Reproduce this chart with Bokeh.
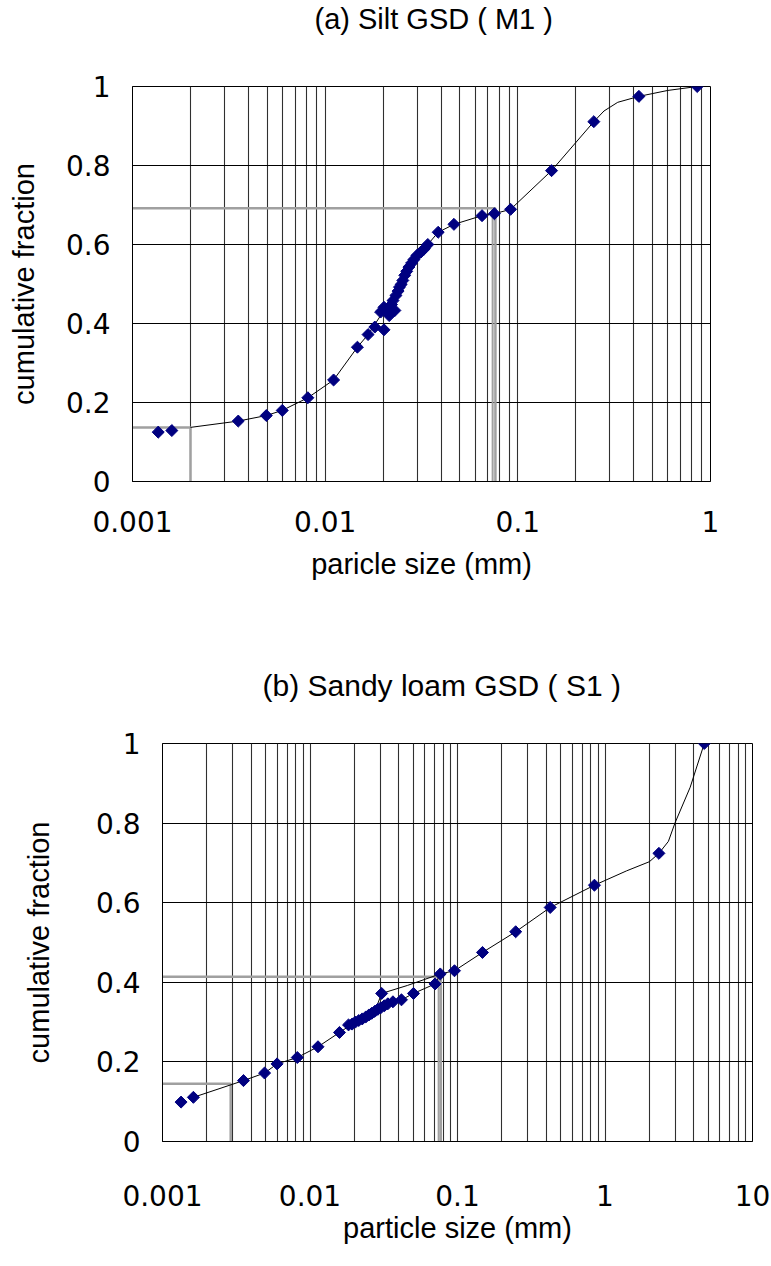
import math
from bokeh.plotting import figure
from bokeh.models import FixedTicker, CustomJSTickFormatter, Title
from bokeh.embed import file_html
from bokeh.resources import INLINE

# ---------------- (a) Silt GSD (M1) ----------------
silt_size = [0.00136, 0.00160, 0.00354, 0.00495, 0.00599, 0.00813, 0.01106, 0.0147, 0.0167,
             0.0181, 0.0202, 0.0194, 0.0202, 0.0211, 0.0215, 0.0221, 0.0225, 0.0230, 0.0233,
             0.0239, 0.0243, 0.0248, 0.0253, 0.0259, 0.0265, 0.0272, 0.0281, 0.0289, 0.0299,
             0.0314, 0.0327, 0.0341, 0.0386, 0.0466, 0.0652, 0.0756, 0.0917, 0.1496, 0.248,
             0.425, 0.853]
silt_frac = [0.125, 0.129, 0.153, 0.167, 0.180, 0.212, 0.257, 0.340, 0.372,
             0.391, 0.384, 0.429, 0.441, 0.433, 0.420, 0.448, 0.458, 0.433, 0.471,
             0.482, 0.492, 0.499, 0.509, 0.522, 0.532, 0.543, 0.553, 0.562, 0.572,
             0.581, 0.589, 0.600, 0.631, 0.651, 0.673, 0.678, 0.689, 0.787, 0.911,
             0.975, 1.0]
silt_curve_size = [0.002, 0.00354, 0.00495, 0.00599, 0.00813, 0.01106, 0.0147, 0.0167, 0.0194,
                   0.0221, 0.0253, 0.0289, 0.0341, 0.0386, 0.0466, 0.0652, 0.0756, 0.0917,
                   0.1496, 0.248, 0.28, 0.33, 0.425, 0.60, 0.853]
silt_curve_frac = [0.137, 0.153, 0.167, 0.180, 0.212, 0.257, 0.340, 0.372, 0.420,
                   0.455, 0.509, 0.560, 0.600, 0.631, 0.651, 0.673, 0.678, 0.689,
                   0.787, 0.911, 0.938, 0.960, 0.975, 0.990, 1.0]
silt_clay_x = [0.001, 0.002, 0.002]
silt_clay_y = [0.137, 0.137, 0.0]
silt_fine_x = [0.001, 0.0765, 0.0765]
silt_fine_y = [0.692, 0.692, 0.0]
silt_fine2_x = [0.074, 0.074]
silt_fine2_y = [0.692, 0.0]

# ---------------- (b) Sandy loam GSD (S1) ----------------
loam_size = [0.001336, 0.00162, 0.00354, 0.00492, 0.00598, 0.0082, 0.01133, 0.01585, 0.01825,
             0.0193, 0.0203, 0.0214, 0.0226, 0.0239, 0.0251, 0.0262, 0.0275, 0.0288, 0.0302,
             0.0319, 0.0337, 0.0306, 0.0365, 0.0417, 0.0503, 0.0705, 0.0764, 0.0954, 0.1477,
             0.248, 0.425, 0.848, 2.32, 4.71]
loam_frac = [0.099, 0.111, 0.153, 0.172, 0.195, 0.211, 0.238, 0.274, 0.293,
             0.295, 0.300, 0.304, 0.308, 0.313, 0.318, 0.322, 0.327, 0.332, 0.336,
             0.341, 0.346, 0.372, 0.351, 0.356, 0.372, 0.396, 0.421, 0.429, 0.475,
             0.527, 0.588, 0.644, 0.724, 1.0]
loam_curve_size = [0.00162, 0.00354, 0.00492, 0.00598, 0.0082, 0.01133, 0.01585, 0.0193, 0.0251,
                   0.0302, 0.0337, 0.0365, 0.0417, 0.0503, 0.0705, 0.0764, 0.0954, 0.1477,
                   0.248, 0.425, 0.848, 1.4, 2.0, 2.32, 2.69, 2.98, 3.78, 4.71]
loam_curve_frac = [0.111, 0.153, 0.172, 0.195, 0.211, 0.238, 0.274, 0.295, 0.318,
                   0.336, 0.346, 0.351, 0.356, 0.372, 0.396, 0.421, 0.429, 0.475,
                   0.527, 0.588, 0.644, 0.680, 0.703, 0.724, 0.754, 0.800, 0.890, 1.0]
loam_loop_size = [0.0275, 0.0306, 0.0457, 0.0764]
loam_loop_frac = [0.327, 0.372, 0.392, 0.421]
loam_clay_x = [0.001, 0.0029, 0.0029]
loam_clay_y = [0.145, 0.145, 0.0]
loam_fine_x = [0.001, 0.077, 0.077]
loam_fine_y = [0.414, 0.414, 0.0]
loam_fine2_x = [0.0745, 0.0745]
loam_fine2_y = [0.414, 0.0]

y_ticks = [0, 0.2, 0.4, 0.6, 0.8, 1]
top_decades = [0.001, 0.01, 0.1, 1]
bottom_decades = [0.001, 0.01, 0.1, 1, 10]

TICK_FONT = "DejaVu Sans"
TEXT_FONT = "Liberation Sans"
NAVY = "#000080"
GUIDE = "#a0a0a0"
GRID = "#303030"


def minor_positions(decades):
    return [k * d for d in decades[:-1] for k in range(2, 10)]


def make_fig(title, xlabel, decades, fw, fh, left, right, top, bottom,
             title_size, spacer_standoff, title_left,
             x_std, x_title_std, y_std, y_title_std):
    p = figure(x_axis_type="log", x_range=(decades[0], decades[-1]), y_range=(0, 1),
               frame_width=fw, frame_height=fh,
               min_border_left=left, min_border_right=right,
               min_border_top=top, min_border_bottom=bottom,
               output_backend="svg", toolbar_location=None,
               background_fill_color="white", border_fill_color="white")
    p.title.text = ""
    # blank white spacer panel next to the frame, real title in the outer panel
    p.add_layout(Title(text=" ", text_font_size="10px", standoff=spacer_standoff,
                       text_color="white"), "above")
    p.add_layout(Title(text=title, align="left", offset=title_left, standoff=0,
                       vertical_align="top", text_font=TEXT_FONT,
                       text_font_size=title_size, text_font_style="normal",
                       text_color="black"), "above")

    xt = FixedTicker(ticks=decades, minor_ticks=minor_positions(decades))
    yt = FixedTicker(ticks=y_ticks)
    p.xaxis.ticker = xt
    p.yaxis.ticker = yt
    p.xgrid.ticker = xt
    p.ygrid.ticker = yt
    p.xaxis.formatter = CustomJSTickFormatter(code="return tick.toString()")
    p.yaxis.formatter = CustomJSTickFormatter(code="return tick.toString()")

    for ax in (p.xaxis[0], p.yaxis[0]):
        ax.axis_line_color = "black"
        ax.major_tick_line_color = None
        ax.minor_tick_line_color = None
        ax.major_tick_in = 0
        ax.major_tick_out = 0
        ax.minor_tick_in = 0
        ax.minor_tick_out = 0
        ax.major_label_text_font = TICK_FONT
        ax.major_label_text_font_size = "28px"
        ax.major_label_text_color = "black"
        ax.axis_label_text_font = TEXT_FONT
        ax.axis_label_text_font_size = "29px"
        ax.axis_label_text_font_style = "normal"
        ax.axis_label_text_color = "black"
    p.xaxis.axis_label = xlabel
    p.yaxis.axis_label = "cumulative fraction"
    p.xaxis.major_label_standoff = x_std
    p.xaxis.axis_label_standoff = x_title_std
    p.yaxis.major_label_standoff = y_std
    p.yaxis.axis_label_standoff = y_title_std

    p.xgrid.grid_line_color = GRID
    p.xgrid.minor_grid_line_color = GRID
    p.xgrid.grid_line_width = 1.1
    p.xgrid.minor_grid_line_width = 1.1
    p.ygrid.grid_line_color = "black"
    p.ygrid.grid_line_width = 1.1
    p.outline_line_color = "black"
    p.outline_line_width = 1
    return p


p1 = make_fig("(a)  Silt GSD ( M1 )", "paricle size (mm)", top_decades,
              578, 395, 132, 61, 86, 185,
              title_size="29px", spacer_standoff=37, title_left=182,
              x_std=29, x_title_std=13, y_std=22, y_title_std=23)
p1.line(silt_clay_x, silt_clay_y, line_color=GUIDE, line_width=2.5)
p1.line(silt_fine_x, silt_fine_y, line_color=GUIDE, line_width=2.5)
p1.line(silt_fine2_x, silt_fine2_y, line_color=GUIDE, line_width=2)
p1.line(silt_curve_size, silt_curve_frac, line_color="black", line_width=1)
p1.scatter(silt_size, silt_frac, marker="square", angle=math.pi / 4, size=8.5,
           fill_color=NAVY, line_color=NAVY)

p2 = make_fig("(b)  Sandy loam GSD ( S1 )", "particle size (mm)", bottom_decades,
              590, 398, 162, 19, 77, 125,
              title_size="30px", spacer_standoff=27, title_left=100,
              x_std=43, x_title_std=3, y_std=22, y_title_std=38)
p2.line(loam_clay_x, loam_clay_y, line_color=GUIDE, line_width=2.5)
p2.line(loam_fine_x, loam_fine_y, line_color=GUIDE, line_width=2.5)
p2.line(loam_fine2_x, loam_fine2_y, line_color=GUIDE, line_width=2)
p2.line(loam_curve_size, loam_curve_frac, line_color="black", line_width=1)
p2.line(loam_loop_size, loam_loop_frac, line_color="black", line_width=1)
p2.scatter(loam_size, loam_frac, marker="square", angle=math.pi / 4, size=8.5,
           fill_color=NAVY, line_color=NAVY)

open("out.html", "w").write(file_html([p1, p2], INLINE))
